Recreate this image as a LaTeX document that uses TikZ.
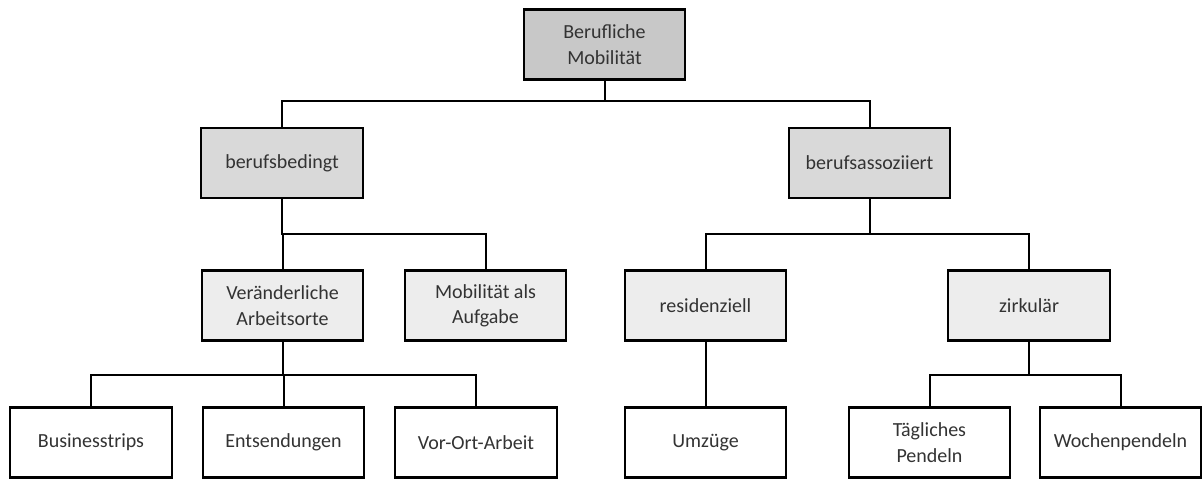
\documentclass[tikz,border=0pt]{standalone}
\usepackage{fontspec}
\setmainfont{Carlito}
\usepackage{tikz}
\usetikzlibrary{positioning,calc}

\definecolor{topgray}{RGB}{200,200,200}
\definecolor{midgray}{RGB}{217,217,217}
\definecolor{subgray}{RGB}{237,237,237}

\begin{document}
\begin{tikzpicture}[
  x=0.75pt, y=-0.75pt,
  font=\fontsize{15}{19}\selectfont,
  box/.style={draw,line width=1.7pt,inner sep=2pt,align=center,minimum width=121pt,minimum height=52.5pt,text=black!80},
  top/.style={box,fill=topgray},
  mid/.style={box,fill=midgray},
  sub/.style={box,fill=subgray},
  leaf/.style={box,fill=white},
  link/.style={line width=1.5pt}
]
\useasboundingbox (0,0) rectangle (1202,479);

% ---- Levels ----
\node[top] (root) at (604.5,44.5) {Berufliche\\Mobilität};

\node[mid] (bb) at (282,163) {berufsbedingt};
\node[mid] (ba) at (869.5,163) {berufsassoziiert};

\node[sub] (va) at (282.5,305.5) {Veränderliche\\Arbeitsorte};
\node[sub] (ma) at (485.5,305.5) {Mobilität als\\Aufgabe};
\node[sub] (re) at (705.5,305.5) {residenziell};
\node[sub] (zi) at (1029,305.5) {zirkulär};

\node[leaf] (bt) at (91,442.5) {Businesstrips};
\node[leaf] (en) at (283.5,442.5) {Entsendungen};
\node[leaf] (vo) at (476,442.5) {Vor-Ort-Arbeit};
\node[leaf] (um) at (705.5,442.5) {Umzüge};
\node[leaf] (tp) at (929.5,442.5) {Tägliches\\Pendeln};
\node[leaf] (wp) at (1120.5,442.5) {Wochenpendeln};

% ---- Connectors ----
\foreach \a/\b in {root/bb,root/ba} {
  \draw[link] (\a.south) -- ++(0,20) -| (\b.north);
}
\foreach \a/\b in {bb/va,bb/ma,ba/re,ba/zi} {
  \draw[link] (\a.south) -- ++(0,35) -| (\b.north);
}
\foreach \a/\b in {va/bt,va/en,va/vo,zi/tp,zi/wp} {
  \draw[link] (\a.south) -- ++(0,33) -| (\b.north);
}
\draw[link] (re.south) -- (um.north);

\end{tikzpicture}
\end{document}
